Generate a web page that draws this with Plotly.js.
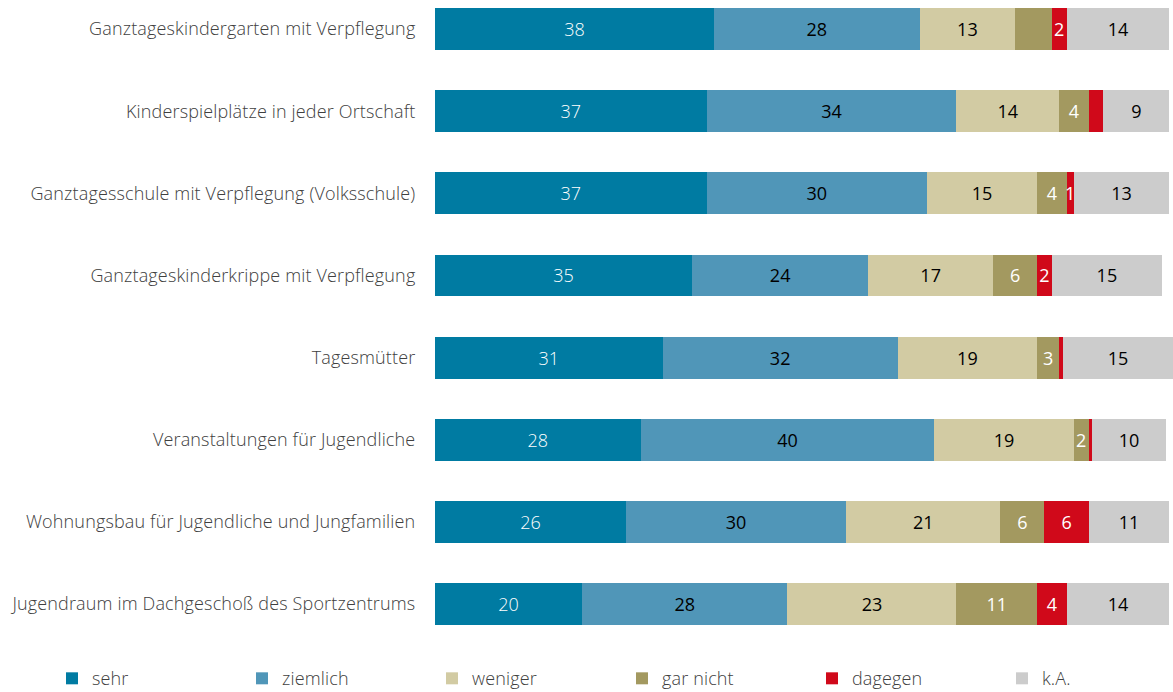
<!DOCTYPE html>
<html><head><meta charset="utf-8">
<script src="https://cdn.plot.ly/plotly-3.0.1.min.js"></script>
<style>
html,body{margin:0;padding:0;background:#fff}
.ytick text, .legendtext { letter-spacing: 0.15px; }
</style>
</head><body>
<div id="chart" style="width:1173px;height:692px"></div>
<script>
const categories = [
  "Ganztageskindergarten mit Verpflegung",
  "Kinderspielplätze in jeder Ortschaft",
  "Ganztagesschule mit Verpflegung (Volksschule)",
  "Ganztageskinderkrippe mit Verpflegung",
  "Tagesmütter",
  "Veranstaltungen für Jugendliche",
  "Wohnungsbau für Jugendliche und Jungfamilien",
  "Jugendraum im Dachgeschoß des Sportzentrums"
];
const sehr     = [38, 37, 37, 35, 31, 28, 26, 20];
const ziemlich = [28, 34, 30, 24, 32, 40, 30, 28];
const weniger  = [13, 14, 15, 17, 19, 19, 21, 23];
const garNicht = [5, 4, 4, 6, 3, 2, 6, 11];
const dagegen  = [2, 2, 1, 2, 0.5, 0.5, 6, 4];
const kA       = [14, 9, 13, 15, 15, 10, 11, 14];
// segments whose value label is not printed in the original
const hiddenGarNicht = [true, false, false, false, false, false, false, false];
const hiddenDagegen  = [false, true, false, false, true, true, false, false];

const seriesNames = ["sehr", "ziemlich", "weniger", "gar nicht", "dagegen", "k.A."];
const seriesValues = [sehr, ziemlich, weniger, garNicht, dagegen, kA];
const seriesHidden = [null, null, null, hiddenGarNicht, hiddenDagegen, null];
const colors = ["#007BA2", "#5096B8", "#D2CBA3", "#A39960", "#D0091A", "#CCCCCC"];
const textColors = ["#ffffff", "#000000", "#000000", "#ffffff", "#ffffff", "#000000"];
const textWeights = [300, 400, 400, 400, 400, 400];

const FONT = "'Open Sans', Lato, sans-serif";
const traces = seriesNames.map((name, i) => ({
  type: "bar",
  orientation: "h",
  name: name,
  y: categories,
  x: seriesValues[i],
  text: seriesValues[i].map((v, j) => (seriesHidden[i] && seriesHidden[i][j]) || v < 1 ? "" : String(v)),
  textposition: "inside",
  insidetextanchor: "middle",
  textangle: 0,
  constraintext: "none",
  cliponaxis: false,
  textfont: {family: FONT, size: 18, weight: textWeights[i], color: textColors[i]},
  marker: {color: colors[i], line: {width: 0}},
  hoverinfo: "x+y+name"
}));

const layout = {
  barmode: "stack",
  bargap: 0.49,
  width: 1173, height: 692,
  margin: {l: 435, r: 0, t: 2, b: 47, autoexpand: false},
  paper_bgcolor: "#ffffff",
  plot_bgcolor: "#ffffff",
  font: {family: FONT, color: "#404040", size: 18, weight: 300},
  showlegend: true,
  legend: {
    orientation: "h",
    x: -0.519, xanchor: "left",
    y: -0.0235, yanchor: "top",
    entrywidth: 145, entrywidthmode: "pixels",
    itemwidth: 30,
    traceorder: "normal",
    font: {family: FONT, size: 18, weight: 300, color: "#404040"}
  },
  xaxis: {
    range: [0, 100.5],
    showgrid: false, zeroline: false, showline: false,
    showticklabels: false, ticks: "", fixedrange: true
  },
  yaxis: {
    type: "category",
    range: [7.5, -0.33],
    showgrid: false, zeroline: false, showline: false,
    ticks: "outside", ticklen: 15, tickcolor: "rgba(0,0,0,0)",
    tickfont: {family: FONT, size: 18, weight: 300, color: "#404040"},
    fixedrange: true
  }
};

Plotly.newPlot("chart", traces, layout, {displayModeBar: false, staticPlot: true});
</script>
</body></html>
